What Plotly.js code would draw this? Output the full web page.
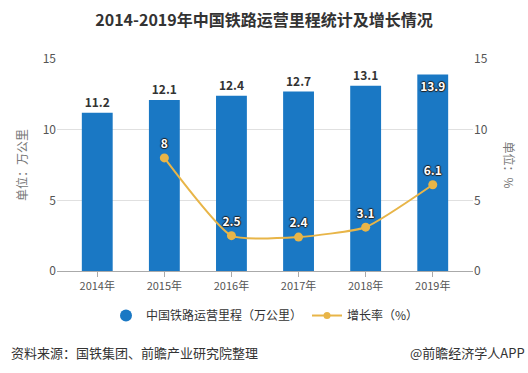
<!DOCTYPE html>
<html>
<head>
<meta charset="utf-8">
<script src="https://cdn.plot.ly/plotly-3.0.1.min.js"></script>
<style>html,body{margin:0;padding:0;background:#fff;}#chart{width:528px;height:373px;}</style>
</head>
<body>
<div id="chart"></div>
<script>
const years = ['2014年','2015年','2016年','2017年','2018年','2019年'];
const mileage = [11.2, 12.1, 12.4, 12.7, 13.1, 13.9];
const growthYears = ['2015年','2016年','2017年','2018年','2019年'];
const growth = [8, 2.5, 2.4, 3.1, 6.1];
const growthLabels = ['8','2.5','2.4','3.1','6.1'];

const FONT = '"Noto Sans CJK SC", "Noto Sans", sans-serif';
const BAR = '#1a78c4';
const LINE = '#e8b548';
const SHADOW = '1px 0 1px #222, -1px 0 1px #222, 0 1px 1px #222, 0 -1px 1px #222';

const traces = [
  {
    type: 'bar', x: years, y: mileage, name: '中国铁路运营里程（万公里）',
    marker: {color: BAR}, showlegend: false,
    text: mileage.map(v => v.toFixed(1)),
    textposition: mileage.map((v, i) => i === mileage.length - 1 ? 'inside' : 'outside'),
    insidetextanchor: 'end',
    outsidetextfont: {family: FONT, size: 12, color: '#333', weight: 'bold'},
    insidetextfont: {family: FONT, size: 12, color: '#fff', weight: 'bold', shadow: SHADOW},
    textangle: 0, cliponaxis: false, hoverinfo: 'skip'
  },
  {
    type: 'scatter', mode: 'lines+markers+text', x: growthYears, y: growth, yaxis: 'y2',
    name: '增长率（%）', showlegend: false,
    line: {color: LINE, width: 2, shape: 'spline', smoothing: 0.5},
    marker: {color: LINE, size: 9},
    text: growthLabels, textposition: 'top center',
    textfont: {family: FONT, size: 12, color: '#fff', weight: 'bold', shadow: SHADOW},
    cliponaxis: false
  },
  {
    type: 'scatter', mode: 'markers', x: [null], y: [null], name: '中国铁路运营里程（万公里）',
    marker: {color: BAR, size: 12, symbol: 'circle'}, showlegend: true
  },
  {
    type: 'scatter', mode: 'lines+markers', x: [null], y: [null], yaxis: 'y2', name: '增长率（%）',
    line: {color: LINE, width: 2}, marker: {color: LINE, size: 7}, showlegend: true
  }
];

const layout = {
  width: 528, height: 373,
  margin: {l: 57, r: 55, t: 59, b: 102},
  paper_bgcolor: '#fff', plot_bgcolor: '#fff',
  font: {family: FONT, size: 11, color: '#555'},
  title: {text: '<b>2014-2019年中国铁路运营里程统计及增长情况</b>', x: 0.5, xanchor: 'center', y: 0.945, yanchor: 'middle',
          font: {family: FONT, size: 16, color: '#333'}},
  bargap: 0.54,
  xaxis: {
    type: 'category', range: [-0.6, 5.6], showgrid: false,
    showline: true, linecolor: '#aaa', linewidth: 1,
    ticks: 'outside', ticklen: 5, tickcolor: '#aaa',
    tickfont: {family: FONT, size: 11, color: '#555'}
  },
  yaxis: {
    range: [0, 15], tickvals: [0, 5, 10, 15], gridcolor: '#e0e0e0', zeroline: false,
    showline: false, ticks: '', ticklen: 0,
    tickfont: {family: FONT, size: 12, color: '#555'},
    title: {text: '单位：万公里', font: {family: FONT, size: 12, color: '#777'}, standoff: 12}
  },
  yaxis2: {
    range: [0, 15], tickvals: [0, 5, 10, 15], overlaying: 'y', side: 'right',
    showgrid: false, zeroline: false, showline: false,
    tickfont: {family: FONT, size: 12, color: '#555'}
  },
  legend: {orientation: 'h', x: 0.5, xanchor: 'center', y: -0.21, yanchor: 'middle',
           font: {family: FONT, size: 12, color: '#333'}, itemwidth: 30, tracegroupgap: 0},
  annotations: [
    {text: '单位：%', xref: 'paper', yref: 'paper', x: 1.09, y: 0.5, textangle: 90, showarrow: false,
     font: {family: FONT, size: 12, color: '#777'}, xanchor: 'center', yanchor: 'middle'},
    {text: '资料来源：国铁集团、前瞻产业研究院整理', xref: 'paper', yref: 'paper', x: -0.115, y: -0.385,
     xanchor: 'left', yanchor: 'middle', showarrow: false, font: {family: FONT, size: 13, color: '#333'}},
    {text: '@前瞻经济学人APP', xref: 'paper', yref: 'paper', x: 1.13, y: -0.385,
     xanchor: 'right', yanchor: 'middle', showarrow: false, font: {family: FONT, size: 13, color: '#333'}}
  ]
};

Plotly.newPlot('chart', traces, layout, {displayModeBar: false, staticPlot: true});
</script>
</body>
</html>
